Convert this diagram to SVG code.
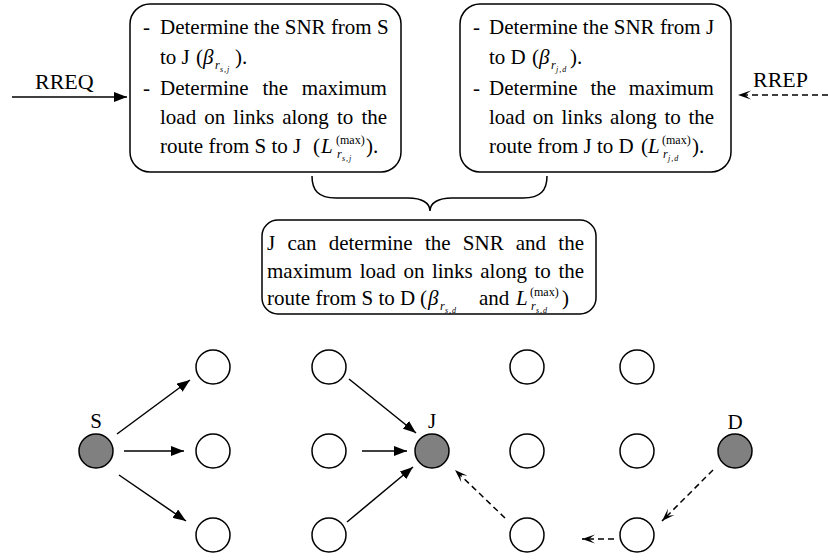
<svg xmlns="http://www.w3.org/2000/svg" width="828" height="560" viewBox="0 0 828 560">
<style>
text{font-family:"Liberation Serif","Times New Roman",serif;font-size:21px;fill:#000}
.i{font-style:italic}
.sub{font-size:12px;font-style:italic}
.ss{font-size:8px;font-style:italic;letter-spacing:1px}
.sup{font-size:12px}
.box{fill:#fff;stroke:#000;stroke-width:1.5}
.node{fill:#fff;stroke:#000;stroke-width:1.5}
.gray{fill:#808080}
.a{stroke:#000;stroke-width:1.5;fill:none;marker-end:url(#ah)}
.d{stroke:#000;stroke-width:1.5;fill:none;stroke-dasharray:6 4;marker-end:url(#oh)}
</style>
<defs>
<marker id="ah" viewBox="0 0 13 10" refX="13" refY="5" markerWidth="13" markerHeight="10" markerUnits="userSpaceOnUse" orient="auto">
<path d="M0,0 L13,5 L0,10 z" fill="#000"/>
</marker>
<marker id="oh" viewBox="0 0 13 10" refX="13" refY="5" markerWidth="13" markerHeight="10" markerUnits="userSpaceOnUse" orient="auto">
<path d="M0,0.5 L13,5 L0,9.5 L6,5 z" fill="#000"/>
</marker>
</defs>
<rect width="828" height="560" fill="#fff"/>

<g id="box-sj">
<rect class="box" x="130" y="4" width="271" height="168" rx="20"/>
<text x="143" y="34">-</text>
<text x="160" y="34">Determine the SNR from S</text>
<text x="160" y="64">to J</text>
<text x="196" y="64">(</text>
<text class="i" x="203" y="64">β</text>
<text class="sub" x="215" y="69">r</text>
<text class="ss" x="220" y="72">s,j</text>
<text x="235" y="64">).</text>
<text x="143" y="95">-</text>
<text y="95"><tspan x="160">Determine</tspan><tspan x="262.4">the</tspan><tspan x="301.8">maximum</tspan></text>
<text y="124"><tspan x="160">load</tspan><tspan x="204.2">on</tspan><tspan x="233.3">links</tspan><tspan x="282.2">along</tspan><tspan x="337">to</tspan><tspan x="361.4">the</tspan></text>
<text x="160" y="153">route from S to J</text>
<text x="313" y="153">(</text>
<text class="i" x="321" y="153">L</text>
<text class="sup" x="336" y="144">(max)</text>
<text class="sub" x="337" y="158">r</text>
<text class="ss" x="342" y="161">s,j</text>
<text x="366" y="153">).</text>
</g>

<g id="box-jd">
<rect class="box" x="460" y="4" width="271" height="168" rx="20"/>
<text x="473" y="34">-</text>
<text x="489" y="34">Determine the SNR from J</text>
<text x="489" y="64">to D</text>
<text x="532" y="64">(</text>
<text class="i" x="539" y="64">β</text>
<text class="sub" x="551" y="69">r</text>
<text class="ss" x="556" y="72">j,d</text>
<text x="570" y="64">).</text>
<text x="473" y="95">-</text>
<text y="95"><tspan x="489">Determine</tspan><tspan x="590.4">the</tspan><tspan x="628.8">maximum</tspan></text>
<text y="124"><tspan x="489">load</tspan><tspan x="532.8">on</tspan><tspan x="561.5">links</tspan><tspan x="610">along</tspan><tspan x="664.4">to</tspan><tspan x="688.4">the</tspan></text>
<text x="489" y="153">route from J to D</text>
<text x="641" y="153">(</text>
<text class="i" x="648" y="153">L</text>
<text class="sup" x="662" y="144">(max)</text>
<text class="sub" x="663" y="158">r</text>
<text class="ss" x="668" y="161">j,d</text>
<text x="692" y="153">).</text>
</g>

<g id="brace">
<path d="M312,176 C312,190 318,198 336,198 L408,198 C422,198 430,203 430,211 C430,203 438,198 452,198 L523,198 C541,198 547,190 547,176" fill="none" stroke="#000" stroke-width="1.5"/>
</g>

<g id="box-result">
<rect class="box" x="262" y="220" width="334" height="94" rx="16"/>
<text y="250"><tspan x="267">J</tspan><tspan x="287.4">can</tspan><tspan x="328.7">determine</tspan><tspan x="424.9">the</tspan><tspan x="462.8">SNR</tspan><tspan x="515.8">and</tspan><tspan x="558.3">the</tspan></text>
<text y="278"><tspan x="267">maximum</tspan><tspan x="359.7">load</tspan><tspan x="403.4">on</tspan><tspan x="431.9">links</tspan><tspan x="480.3">along</tspan><tspan x="534.5">to</tspan><tspan x="558.4">the</tspan></text>
<text x="267" y="305">route from S to D</text>
<text x="420" y="305">(</text>
<text class="i" x="428" y="305">β</text>
<text class="sub" x="440" y="310">r</text>
<text class="ss" x="445" y="313">s,d</text>
<text x="479" y="305">and</text>
<text class="i" x="516" y="305">L</text>
<text class="sup" x="530" y="296">(max)</text>
<text class="sub" x="531" y="310">r</text>
<text class="ss" x="536" y="313">s,d</text>
<text x="562" y="305">)</text>
</g>

<g id="rreq">
<text x="35" y="89" style="font-size:22px">RREQ</text>
</g>
<g id="rrep">
<text x="753" y="87" style="font-size:22px">RREP</text>
</g>

<g id="n-S"><circle class="node gray" cx="96" cy="451" r="17"/><text x="96" y="428" text-anchor="middle">S</text></g>
<g id="n-2a"><circle class="node" cx="213" cy="367" r="17"/></g>
<g id="n-2b"><circle class="node" cx="213" cy="451" r="17"/></g>
<g id="n-2c"><circle class="node" cx="213" cy="535" r="17"/></g>
<g id="n-3a"><circle class="node" cx="329" cy="367" r="17"/></g>
<g id="n-3b"><circle class="node" cx="329" cy="451" r="17"/></g>
<g id="n-3c"><circle class="node" cx="329" cy="535" r="17"/></g>
<g id="n-J"><circle class="node gray" cx="432" cy="451" r="17"/><text x="432" y="428" text-anchor="middle">J</text></g>
<g id="n-5a"><circle class="node" cx="527" cy="367" r="17"/></g>
<g id="n-5b"><circle class="node" cx="527" cy="451" r="17"/></g>
<g id="n-5c"><circle class="node" cx="527" cy="535" r="17"/></g>
<g id="n-6a"><circle class="node" cx="637" cy="367" r="17"/></g>
<g id="n-6b"><circle class="node" cx="637" cy="451" r="17"/></g>
<g id="n-6c"><circle class="node" cx="637" cy="535" r="17"/></g>
<g id="n-D"><circle class="node gray" cx="735" cy="451" r="17"/><text x="735" y="429" text-anchor="middle">D</text></g>

<g id="connectors">
<line class="a" x1="12" y1="97" x2="127" y2="97"/>
<line class="d" x1="828" y1="95" x2="738" y2="95"/>
<line class="a" x1="117" y1="434" x2="190" y2="380"/>
<line class="a" x1="124" y1="451" x2="184" y2="451"/>
<line class="a" x1="119" y1="475" x2="186" y2="521"/>
<line class="a" x1="349" y1="379" x2="416" y2="433"/>
<line class="a" x1="362" y1="451" x2="407" y2="451"/>
<line class="a" x1="347" y1="522" x2="413" y2="467"/>
<line class="d" x1="713" y1="470" x2="662" y2="521"/>
<line class="d" x1="614" y1="539" x2="582" y2="539"/>
<line class="d" x1="505" y1="518" x2="455" y2="470"/>
</g>
</svg>
